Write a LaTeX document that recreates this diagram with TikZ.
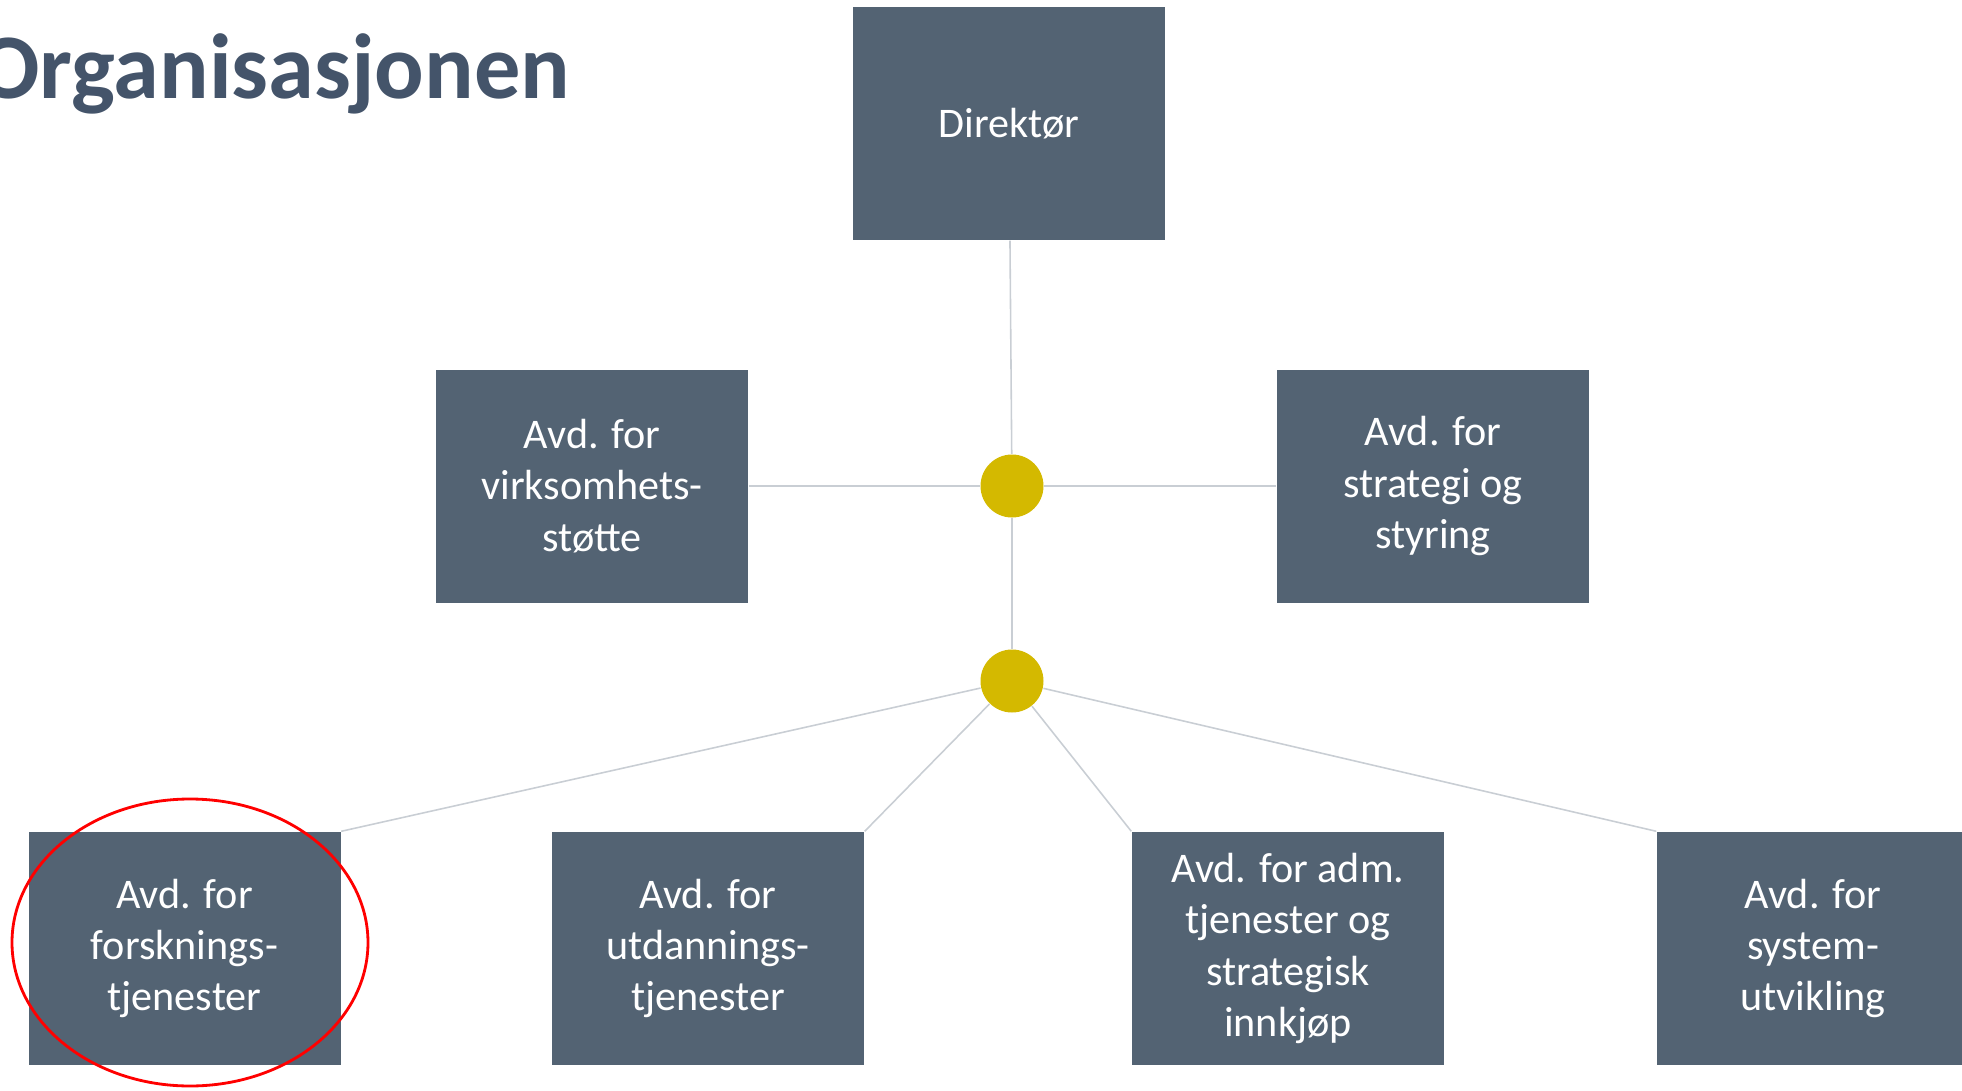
\documentclass[tikz,border=0pt]{standalone}
\usepackage{fontspec}
\setmainfont{Carlito}
\usetikzlibrary{positioning}

\definecolor{slate}{HTML}{536373}
\definecolor{titleblue}{HTML}{44546A}
\definecolor{hubyellow}{HTML}{D4B900}
\definecolor{linkgray}{HTML}{C9CED4}

\begin{document}
\begin{tikzpicture}[
    unit/.style={rectangle, fill=slate, text=white, minimum width=3.12cm,
        minimum height=2.33cm, inner sep=0pt, align=center,
        font=\fontsize{12pt}{14.6pt}\selectfont},
    hub/.style={circle, fill=hubyellow, minimum size=6.3mm, inner sep=0pt},
    link/.style={draw=linkgray, line width=0.45pt},
    mark ring/.style={draw=red, line width=0.8pt}
]
\useasboundingbox (0,0) rectangle (19.62,10.90);
\clip (0,0) rectangle (19.62,10.90);

\node[anchor=base east, inner sep=0pt, text=titleblue,
      font=\bfseries\fontsize{26.3pt}{30pt}\selectfont] (title) at (5.71,9.91) {Organisasjonen};

\node[unit] (dir) at (10.09,9.665) {Direktør};
\node[hub] (hubA) at (10.12,6.04) {};
\node[hub] (hubB) at (10.12,4.09) {};
\node[unit, left=2.31cm of hubA] (virk) {Avd. for\\virksomhets-\\støtte};
\node[unit, right=2.32cm of hubA] (strat) {Avd. for\\strategi og\\styring};

\node[unit] (forsk) at (1.845,1.415) {Avd. for\\forsknings-\\tjenester};
\node[unit] (utd) at (7.08,1.415) {Avd. for\\utdannings-\\tjenester};
\node[unit] (adm) at (12.88,1.415) {Avd. for adm.\\tjenester og\\strategisk\\innkjøp};
\node[unit] (sys) at (18.13,1.415) {Avd. for\\system-\\utvikling};

% connectors
\path[link]
(dir) edge (hubA)
(virk) edge (hubA)
(strat) edge (hubA)
(hubA) edge (hubB)
(hubB) edge (forsk.north east)
(hubB) edge (utd.north east)
(hubB) edge (adm.north west)
(hubB) edge (sys.north west);

\draw[mark ring] (1.90,1.475) ellipse (1.78cm and 1.435cm);
\end{tikzpicture}
\end{document}
